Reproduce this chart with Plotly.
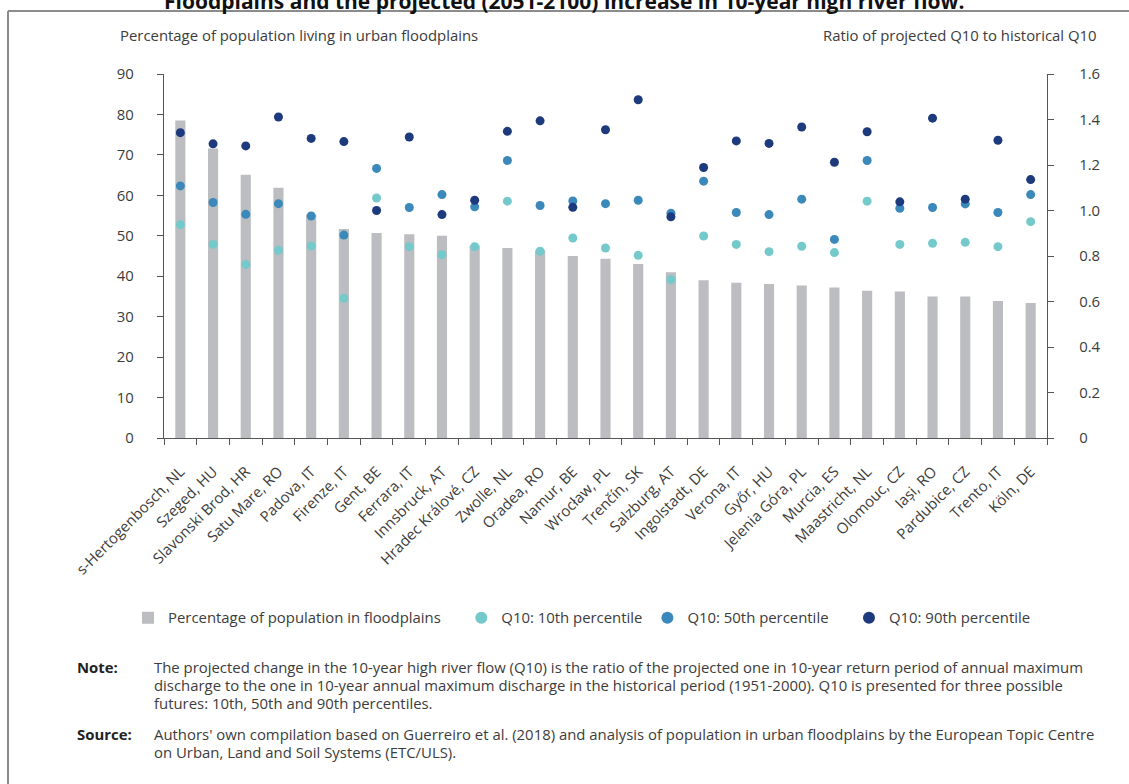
import plotly.graph_objects as go

cities = ["s-Hertogenbosch, NL", "Szeged, HU", "Slavonski Brod, HR", "Satu Mare, RO", "Padova, IT",
          "Firenze, IT", "Gent, BE", "Ferrara, IT", "Innsbruck, AT", "Hradec Králové, CZ",
          "Zwolle, NL", "Oradea, RO", "Namur, BE", "Wrocław, PL", "Trenčín, SK",
          "Salzburg, AT", "Ingolstadt, DE", "Verona, IT", "Győr, HU", "Jelenia Góra, PL",
          "Murcia, ES", "Maastricht, NL", "Olomouc, CZ", "Iași, RO", "Pardubice, CZ",
          "Trento, IT", "Köln, DE"]

pop_pct = [78.5, 71.6, 65.1, 61.9, 55.2, 51.7, 50.7, 50.4, 50.0, 47.6,
           47.0, 46.4, 45.0, 44.3, 43.0, 41.0, 39.0, 38.4, 38.1, 37.7,
           37.2, 36.4, 36.2, 35.0, 35.0, 33.9, 33.4]

q10_p10 = [0.938, 0.851, 0.763, 0.825, 0.844, 0.614, 1.055, 0.841, 0.806, 0.841,
           1.041, 0.821, 0.879, 0.835, 0.803, 0.696, 0.888, 0.851, 0.819, 0.843,
           0.815, 1.041, 0.851, 0.856, 0.860, 0.841, 0.951]

q10_p50 = [1.108, 1.035, 0.983, 1.030, 0.976, 0.892, 1.185, 1.013, 1.070, 1.016,
           1.220, 1.022, 1.042, 1.030, 1.045, 0.988, 1.129, 0.991, 0.982, 1.050,
           0.873, 1.220, 1.010, 1.013, 1.029, 0.991, 1.070]

q10_p90 = [1.342, 1.293, 1.284, 1.411, 1.317, 1.303, 1.000, 1.323, 0.982, 1.045,
           1.348, 1.394, 1.014, 1.355, 1.487, 0.972, 1.189, 1.306, 1.295, 1.367,
           1.212, 1.346, 1.038, 1.406, 1.050, 1.309, 1.136]

left_ticks = [0, 10, 20, 30, 40, 50, 60, 70, 80, 90]
right_ticks = [0, 0.2, 0.4, 0.6, 0.8, 1.0, 1.2, 1.4, 1.6]
right_tick_text = ["0", "0.2", "0.4", "0.6", "0.8", "1.0", "1.2", "1.4", "1.6"]

series_names = ["Percentage of population in floodplains", "Q10: 10th percentile",
                "Q10: 50th percentile", "Q10: 90th percentile"]

title_text = "Floodplains and the projected (2051-2100) increase in 10-year high river flow."
left_axis_title = "Percentage of population living in urban floodplains"
right_axis_title = "Ratio of projected Q10 to historical Q10"
note_lines = [
    "The projected change in the 10-year high river flow (Q10) is the ratio of the projected one in 10-year return period of annual maximum",
    "discharge to the one in 10-year annual maximum discharge in the historical period (1951-2000). Q10 is presented for three possible",
    "futures: 10th, 50th and 90th percentiles.",
]
source_lines = [
    "Authors' own compilation based on Guerreiro et al. (2018) and analysis of population in urban floodplains by the European Topic Centre",
    "on Urban, Land and Soil Systems (ETC/ULS).",
]

FONT = "Open Sans"
TXT = "#3c3c3c"
C_BAR = "#bcbdc1"
C_P10 = "#74c9cb"
C_P50 = "#3b88ba"
C_P90 = "#1d3a7d"
FS = 14.9

W, H = 1129, 784
L, R, T, B = 164, 1047, 74, 438

def px(x):
    return (x - L) / (R - L)

def py(y):
    return (B - y) / (B - T)

NB = "\u00a0"
legend_pad = [NB * 4, "", NB * 4, ""]

fig = go.Figure()
fig.add_trace(go.Bar(x=cities, y=pop_pct, name=series_names[0] + legend_pad[0],
                     marker=dict(color=C_BAR, line=dict(width=0)), yaxis="y"))
for vals, col, nm, pad in [(q10_p10, C_P10, series_names[1], legend_pad[1]),
                           (q10_p50, C_P50, series_names[2], legend_pad[2]),
                           (q10_p90, C_P90, series_names[3], legend_pad[3])]:
    fig.add_trace(go.Scatter(x=cities, y=vals, name=nm + pad, mode="markers", yaxis="y2",
                             marker=dict(color=col, size=9, line=dict(width=0))))

axis_common = dict(showgrid=False, zeroline=False, showline=True, linecolor="#555555",
                   linewidth=1.3, ticks="outside", ticklen=6, tickcolor="#555555",
                   tickfont=dict(family=FONT, size=FS, color=TXT))

fig.update_layout(
    width=W, height=H,
    margin=dict(l=L, r=W - R, t=T, b=H - B),
    paper_bgcolor="white", plot_bgcolor="white",
    bargap=0.69,
    font=dict(family=FONT, color=TXT, size=FS),
    showlegend=True,
    legend=dict(orientation="h", x=px(128), xanchor="left", y=py(618), yanchor="middle",
                font=dict(family=FONT, size=FS, color=TXT), itemsizing="constant",
                traceorder="normal"),
    xaxis=dict(**axis_common, tickangle=-45, tickson="boundaries", ticklabelstandoff=18,
               range=[-0.5, len(cities) - 0.5]),
    yaxis=dict(**axis_common, range=[0, 90], tickvals=left_ticks, ticklabelstandoff=20),
    yaxis2=dict(**axis_common, range=[0, 1.6], tickvals=right_ticks, ticktext=right_tick_text,
                overlaying="y", side="right", ticklabelstandoff=22),
)

annotations = [
    dict(text="<b>" + title_text + "</b>", x=px(564), y=py(0.5), xanchor="center", yanchor="middle",
         font=dict(family=FONT, size=21, color="#111111")),
    dict(text=left_axis_title, x=px(118), y=py(35), xanchor="left", yanchor="middle",
         font=dict(family=FONT, size=FS, color=TXT)),
    dict(text=right_axis_title, x=px(1099), y=py(35), xanchor="right", yanchor="middle",
         font=dict(family=FONT, size=FS, color=TXT)),
    dict(text="<b>Note:</b>", x=px(75), y=py(667), xanchor="left", yanchor="middle",
         font=dict(family=FONT, size=FS, color="#222222")),
    dict(text="<b>Source:</b>", x=px(75), y=py(734), xanchor="left", yanchor="middle",
         font=dict(family=FONT, size=FS, color="#222222")),
]
for i, line in enumerate(note_lines):
    annotations.append(dict(text=line, x=px(152), y=py(667 + 18 * i), xanchor="left", yanchor="middle",
                            font=dict(family=FONT, size=FS, color=TXT)))
for i, line in enumerate(source_lines):
    annotations.append(dict(text=line, x=px(152), y=py(734 + 17.5 * i), xanchor="left", yanchor="middle",
                            font=dict(family=FONT, size=FS, color=TXT)))
for a in annotations:
    a.update(xref="paper", yref="paper", showarrow=False)
fig.update_layout(annotations=annotations)

fig.add_shape(type="line", xref="paper", yref="paper", x0=px(8), x1=px(1135), y0=py(11), y1=py(11),
              line=dict(color="#8c8c8c", width=2))
fig.add_shape(type="line", xref="paper", yref="paper", x0=px(8), x1=px(8), y0=py(11), y1=py(790),
              line=dict(color="#8c8c8c", width=2))

fig.write_html("out.html", config={"displayModeBar": False},
               post_script="document.body.style.margin='0px';")
